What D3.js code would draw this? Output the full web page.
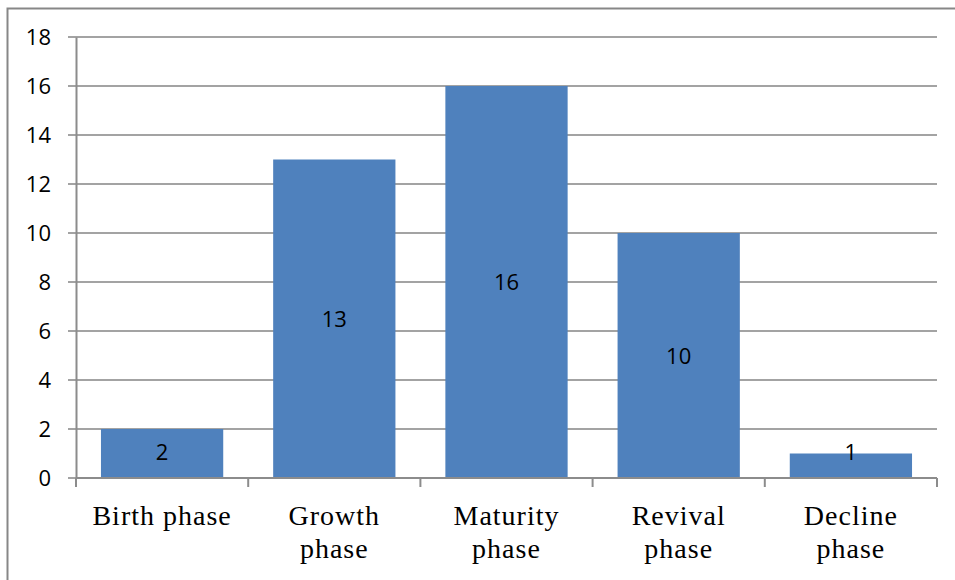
<!DOCTYPE html>
<html>
<head>
<meta charset="utf-8">
<script src="https://cdn.jsdelivr.net/npm/d3@7"></script>
<style>
  body { margin: 0; background: #fff; }
</style>
</head>
<body>
<div id="viz"></div>
<script>
const categories = [['Birth phase'], ['Growth', 'phase'], ['Maturity', 'phase'], ['Revival', 'phase'], ['Decline', 'phase']];
const values = [2, 13, 16, 10, 1];
const yTicks = [0, 2, 4, 6, 8, 10, 12, 14, 16, 18];

const width = 955;
const height = 580;
const margin = { left: 76, right: 18, top: 37, bottom: 102 };

const svg = d3.select('#viz').append('svg')
  .attr('width', width)
  .attr('height', height);

// outer chart frame (runs off right and bottom edges)
svg.append('rect')
  .attr('x', 7.5)
  .attr('y', 8.5)
  .attr('width', width + 20)
  .attr('height', height + 20)
  .attr('fill', 'none')
  .attr('stroke', '#878787')
  .attr('stroke-width', 2);

const xScale = d3.scaleBand()
  .domain(d3.range(categories.length))
  .range([margin.left, width - margin.right])
  .paddingInner(0.29)
  .paddingOuter(0.145);

const yScale = d3.scaleLinear()
  .domain([0, 18])
  .range([height - margin.bottom, margin.top]);

const g = svg.append('g');

// gridlines
g.selectAll('line.grid')
  .data(yTicks)
  .enter()
  .append('line')
  .attr('class', 'grid')
  .attr('x1', margin.left - 8)
  .attr('x2', width - margin.right)
  .attr('y1', d => yScale(d))
  .attr('y2', d => yScale(d))
  .attr('stroke', '#a3a3a3')
  .attr('stroke-width', 2);

// bars
g.selectAll('rect.bar')
  .data(values)
  .enter()
  .append('rect')
  .attr('class', 'bar')
  .attr('x', (d, i) => xScale(i))
  .attr('width', xScale.bandwidth())
  .attr('y', d => yScale(d))
  .attr('height', d => yScale(0) - yScale(d))
  .attr('fill', '#4f81bd');

// data labels
g.selectAll('text.val')
  .data(values)
  .enter()
  .append('text')
  .attr('class', 'val')
  .attr('x', (d, i) => xScale(i) + xScale.bandwidth() / 2)
  .attr('y', d => Math.min((yScale(d) + yScale(0)) / 2, yScale(0) - 26) + 8)
  .attr('text-anchor', 'middle')
  .attr('font-family', 'Open Sans, sans-serif')
  .attr('font-size', 22)
  .attr('fill', '#000')
  .text(d => d);

// y axis
const yAxis = d3.axisLeft(yScale)
  .tickValues(yTicks)
  .tickSize(0)
  .tickPadding(25);

const yg = svg.append('g')
  .attr('transform', `translate(${margin.left},0)`)
  .call(yAxis);
yg.select('.domain').attr('stroke', '#8c8c8c').attr('stroke-width', 2);
yg.selectAll('text')
  .attr('font-family', 'Open Sans, sans-serif')
  .attr('font-size', 22)
  .attr('fill', '#000');

// x axis line and category ticks
const xEdges = d3.range(categories.length + 1).map(i =>
  margin.left + i * (width - margin.right - margin.left) / categories.length);

svg.append('line')
  .attr('x1', margin.left)
  .attr('x2', width - margin.right)
  .attr('y1', yScale(0))
  .attr('y2', yScale(0))
  .attr('stroke', '#8c8c8c')
  .attr('stroke-width', 2);

svg.selectAll('line.xtick')
  .data(xEdges)
  .enter()
  .append('line')
  .attr('class', 'xtick')
  .attr('x1', d => d)
  .attr('x2', d => d)
  .attr('y1', yScale(0))
  .attr('y2', yScale(0) + 9)
  .attr('stroke', '#8c8c8c')
  .attr('stroke-width', 2);

// category labels
const labels = svg.selectAll('text.cat')
  .data(categories)
  .enter()
  .append('text')
  .attr('class', 'cat')
  .attr('text-anchor', 'middle')
  .attr('font-family', 'Liberation Serif, serif')
  .attr('font-size', 28)
  .attr('letter-spacing', 1)
  .attr('fill', '#000');

labels.selectAll('tspan')
  .data((d, i) => d.map(t => ({ t, i })))
  .enter()
  .append('tspan')
  .attr('x', d => xScale(d.i) + xScale.bandwidth() / 2)
  .attr('y', (d, j) => 525 + j * 33)
  .text(d => d.t);
</script>
</body>
</html>
